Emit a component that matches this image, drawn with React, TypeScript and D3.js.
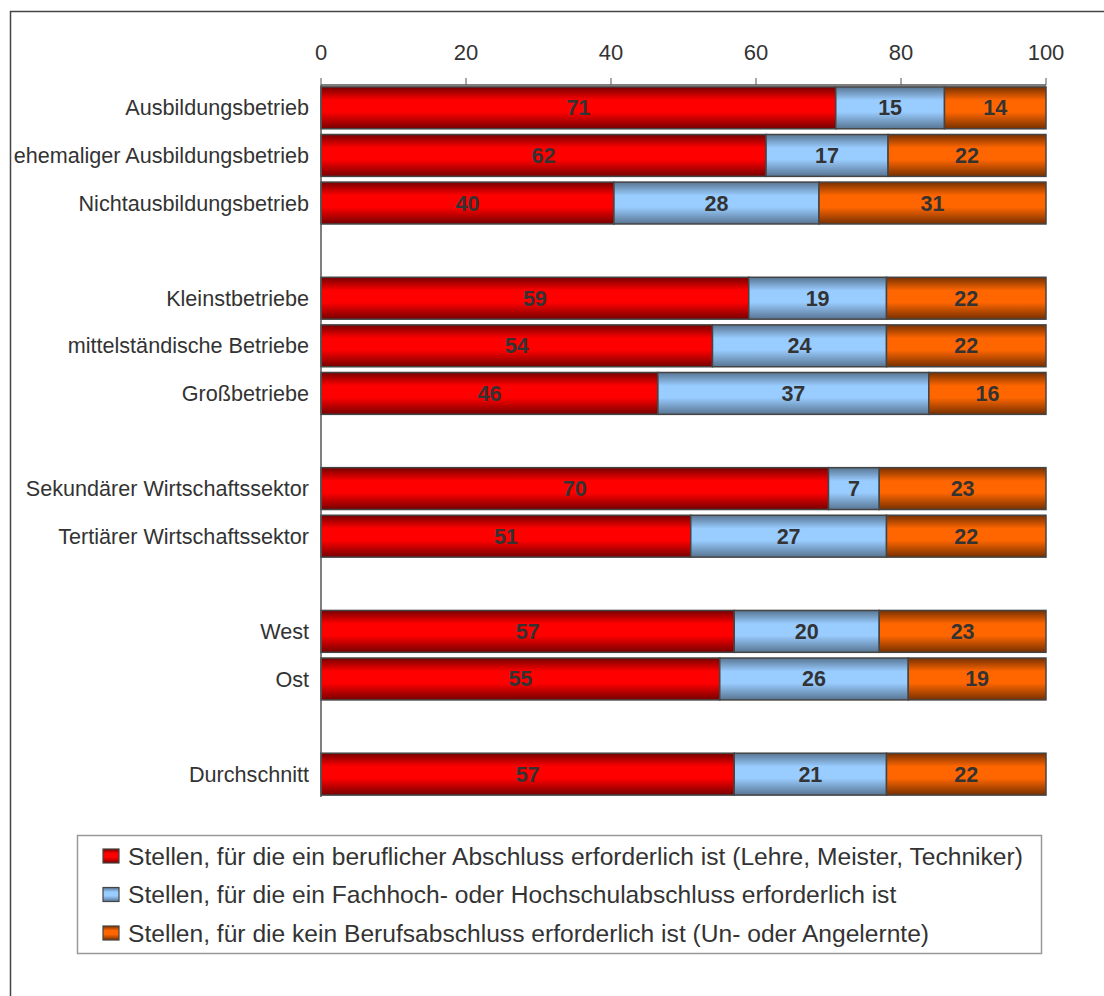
import React from "react";
import * as d3 from "d3";

// Row categories; whitespace-only entries are spacer rows between groups
const categories: string[] = [
  "Ausbildungsbetrieb",
  "ehemaliger Ausbildungsbetrieb",
  "Nichtausbildungsbetrieb",
  "",
  "Kleinstbetriebe",
  "mittelständische Betriebe",
  "Großbetriebe",
  " ",
  "Sekundärer Wirtschaftssektor",
  "Tertiärer Wirtschaftssektor",
  "  ",
  "West",
  "Ost",
  "   ",
  "Durchschnitt",
];

const beruflich: (number | null)[] = [71, 62, 40, null, 59, 54, 46, null, 70, 51, null, 57, 55, null, 57];
const hochschule: (number | null)[] = [15, 17, 28, null, 19, 24, 37, null, 7, 27, null, 20, 26, null, 21];
const ohneAbschluss: (number | null)[] = [14, 22, 31, null, 22, 22, 16, null, 23, 22, null, 23, 19, null, 22];

const seriesNames: string[] = [
  "Stellen, für die ein beruflicher Abschluss erforderlich ist (Lehre, Meister, Techniker)",
  "Stellen, für die ein Fachhoch- oder Hochschulabschluss erforderlich ist",
  "Stellen, für die kein Berufsabschluss erforderlich ist (Un- oder Angelernte)",
];

const tickValues: number[] = [0, 20, 40, 60, 80, 100];

const FONT = "'Liberation Sans', Arial, Helvetica, sans-serif";
const TEXT = "#333333";

const gradients = [
  { id: "g-red", edge: "#760000", mid: "#ff0000" },
  { id: "g-blue", edge: "#587592", mid: "#99ccff" },
  { id: "g-orange", edge: "#763000", mid: "#ff6600" },
];

export default function App() {
  const W = 1104;
  const H = 996;
  const x0 = 321;
  const x1 = 1046;
  const top = 85;
  const bottom = 797;

  const rows = categories.map((c, i) => ({
    cat: c,
    a: beruflich[i],
    b: hochschule[i],
    c: ohneAbschluss[i],
  }));
  const dataRows = rows.filter((r) => r.a !== null);

  const keys = ["a", "b", "c"];
  // 100 % stacked: each row is normalised to its own total
  const stack = d3.stack<any>().keys(keys).offset(d3.stackOffsetExpand);
  const stacked = stack(dataRows);

  const x = d3.scaleLinear().domain([0, 1]).range([x0, x1]);
  const xTick = d3.scaleLinear().domain([0, 100]).range([x0, x1]);
  const y = d3
    .scaleBand<string>()
    .domain(categories)
    .range([top, bottom])
    .paddingInner(0.12)
    .paddingOuter(0.04);

  return (
    <svg
      width={W}
      height={H}
      style={{ position: "absolute", left: 0, top: 0, background: "#fff" }}
      fontFamily={FONT}
    >
      <defs>
        {gradients.map((g) => (
          <linearGradient key={g.id} id={g.id} x1="0" y1="0" x2="0" y2="1">
            <stop offset="0" stopColor={g.edge} />
            <stop offset="0.32" stopColor={g.mid} />
            <stop offset="0.6" stopColor={g.mid} />
            <stop offset="1" stopColor={g.edge} />
          </linearGradient>
        ))}
      </defs>

      {/* outer frame */}
      <path d={`M10.5,${H} V11.5 H${W}`} fill="none" stroke="#444" strokeWidth={1.5} />

      {/* x axis on top */}
      <line x1={x0} x2={x1} y1={top} y2={top} stroke="#555" strokeWidth={1.5} />
      {tickValues.map((t) => (
        <g key={t}>
          <line x1={xTick(t)} x2={xTick(t)} y1={top - 7} y2={top} stroke="#555" strokeWidth={1} />
          <text x={xTick(t)} y={52} dy="0.35em" textAnchor="middle" fontSize={22} fill={TEXT}>
            {t}
          </text>
        </g>
      ))}

      {/* stacked bars */}
      {stacked.map((layer, li) => (
        <g key={layer.key}>
          {layer.map((d: any, i: number) => {
            const row = dataRows[i];
            const yy = y(row.cat)!;
            const bw = y.bandwidth();
            const xa = x(d[0]);
            const xb = x(d[1]);
            const val = (row as any)[layer.key] as number;
            return (
              <g key={i}>
                <rect
                  x={xa}
                  y={yy}
                  width={xb - xa}
                  height={bw}
                  fill={`url(#${gradients[li].id})`}
                  stroke="#444"
                  strokeWidth={1.5}
                />
                <text
                  x={(xa + xb) / 2}
                  y={yy + bw / 2}
                  dy="0.35em"
                  textAnchor="middle"
                  fontSize={21.5}
                  fontWeight="bold"
                  fill={TEXT}
                >
                  {val}
                </text>
              </g>
            );
          })}
        </g>
      ))}

      {/* y axis */}
      <line x1={x0} x2={x0} y1={top} y2={bottom} stroke="#555" strokeWidth={1.5} />
      {dataRows.map((r) => (
        <text
          key={r.cat}
          x={309}
          y={y(r.cat)! + y.bandwidth() / 2}
          dy="0.35em"
          textAnchor="end"
          fontSize={21.6}
          fill={TEXT}
        >
          {r.cat}
        </text>
      ))}

      {/* legend */}
      <rect x={77.5} y={835.5} width={964} height={118} fill="#fff" stroke="#999" strokeWidth={1.5} />
      {seriesNames.map((name, i) => {
        const ly = 856 + i * 38.5;
        return (
          <g key={name}>
            <rect
              x={103}
              y={ly - 7}
              width={16}
              height={14}
              fill={`url(#${gradients[i].id})`}
              stroke="#444"
              strokeWidth={1.2}
            />
            <text x={128} y={ly} dy="0.35em" fontSize={24.6} fill={TEXT}>
              {name}
            </text>
          </g>
        );
      })}
    </svg>
  );
}
